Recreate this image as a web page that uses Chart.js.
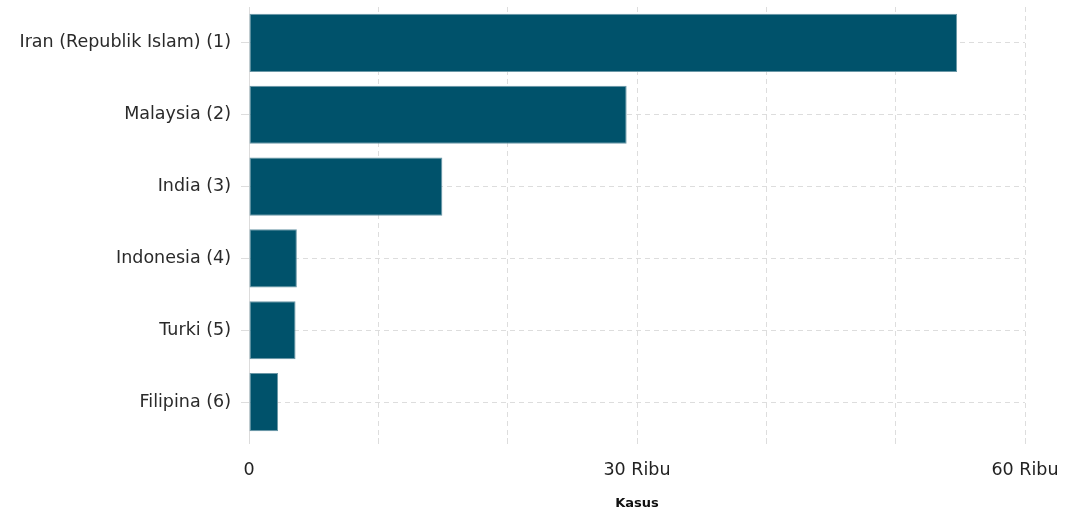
<!DOCTYPE html>
<html>
<head>
<meta charset="utf-8">
<script src="https://cdn.jsdelivr.net/npm/chart.js@4"></script>
<style>
  html, body { margin: 0; padding: 0; background: #fff; }
  #wrap { width: 1067px; height: 514px; }
</style>
</head>
<body>
<div id="wrap"><canvas id="myChart" width="1067" height="514"></canvas></div>
<script>
const countries = ['Iran (Republik Islam) (1)', 'Malaysia (2)', 'India (3)', 'Indonesia (4)', 'Turki (5)', 'Filipina (6)'];
const cases = [54750, 29200, 14950, 3700, 3600, 2250];
const xTickValues = [0, 30000, 60000];
const xTickLabels = ['0', '30 Ribu', '60 Ribu'];

// solid light line along the left edge of the plot
const leftLine = {
    id: 'leftLine',
    beforeDatasetsDraw: function(chart) {
        const a = chart.chartArea;
        const c = chart.ctx;
        c.save();
        c.strokeStyle = '#dcdcdc';
        c.lineWidth = 1;
        c.beginPath();
        c.moveTo(a.left + 0.5, a.top);
        c.lineTo(a.left + 0.5, a.bottom + 6);
        c.stroke();
        c.restore();
    }
};

const ctx = document.getElementById('myChart').getContext('2d');
const chart = new Chart(ctx, {
    type: 'bar',
    data: {
        labels: countries,
        datasets: [{
            label: 'Kasus',
            data: cases,
            backgroundColor: '#00526b',
            borderColor: '#6a97a6',
            borderWidth: 1,
            borderSkipped: false,
            categoryPercentage: 0.9,
            barPercentage: 0.9
        }]
    },
    options: {
        indexAxis: 'y',
        responsive: false,
        animation: false,
        layout: { padding: { top: 7, right: 42, left: 0, bottom: 0 } },
        plugins: {
            legend: { display: false },
            tooltip: { enabled: false }
        },
        scales: {
            x: {
                min: 0,
                max: 60000,
                ticks: {
                    stepSize: 10000,
                    autoSkip: false,
                    maxRotation: 0,
                    color: '#222',
                    font: { family: 'DejaVu Sans', size: 17.5 },
                    padding: 16,
                    callback: function(value) {
                        const i = xTickValues.indexOf(value);
                        return i >= 0 ? xTickLabels[i] : '';
                    }
                },
                grid: {
                    color: '#dddddd',
                    lineWidth: 1,
                    tickLength: 6,
                    tickBorderDash: []
                },
                border: { display: false, dash: [5, 4] },
                title: {
                    display: true,
                    text: 'Kasus',
                    color: '#111',
                    font: { family: 'DejaVu Sans', size: 13, weight: 'bold' },
                    padding: { top: 10, bottom: 3 }
                },
                afterFit: function(scale) {
                    scale.height = 76;
                    scale.paddingLeft = 0;
                    scale.paddingRight = 0;
                }
            },
            y: {
                ticks: {
                    color: '#2a2a2a',
                    font: { family: 'DejaVu Sans', size: 17.5 },
                    padding: 10
                },
                grid: {
                    offset: false,
                    color: '#dddddd',
                    tickLength: 8,
                    tickBorderDash: []
                },
                border: { display: false, dash: [5, 4] },
                afterFit: function(scale) {
                    scale.width = 249;
                    scale.paddingTop = 0;
                    scale.paddingBottom = 0;
                }
            }
        }
    },
    plugins: [leftLine]
});
</script>
</body>
</html>
